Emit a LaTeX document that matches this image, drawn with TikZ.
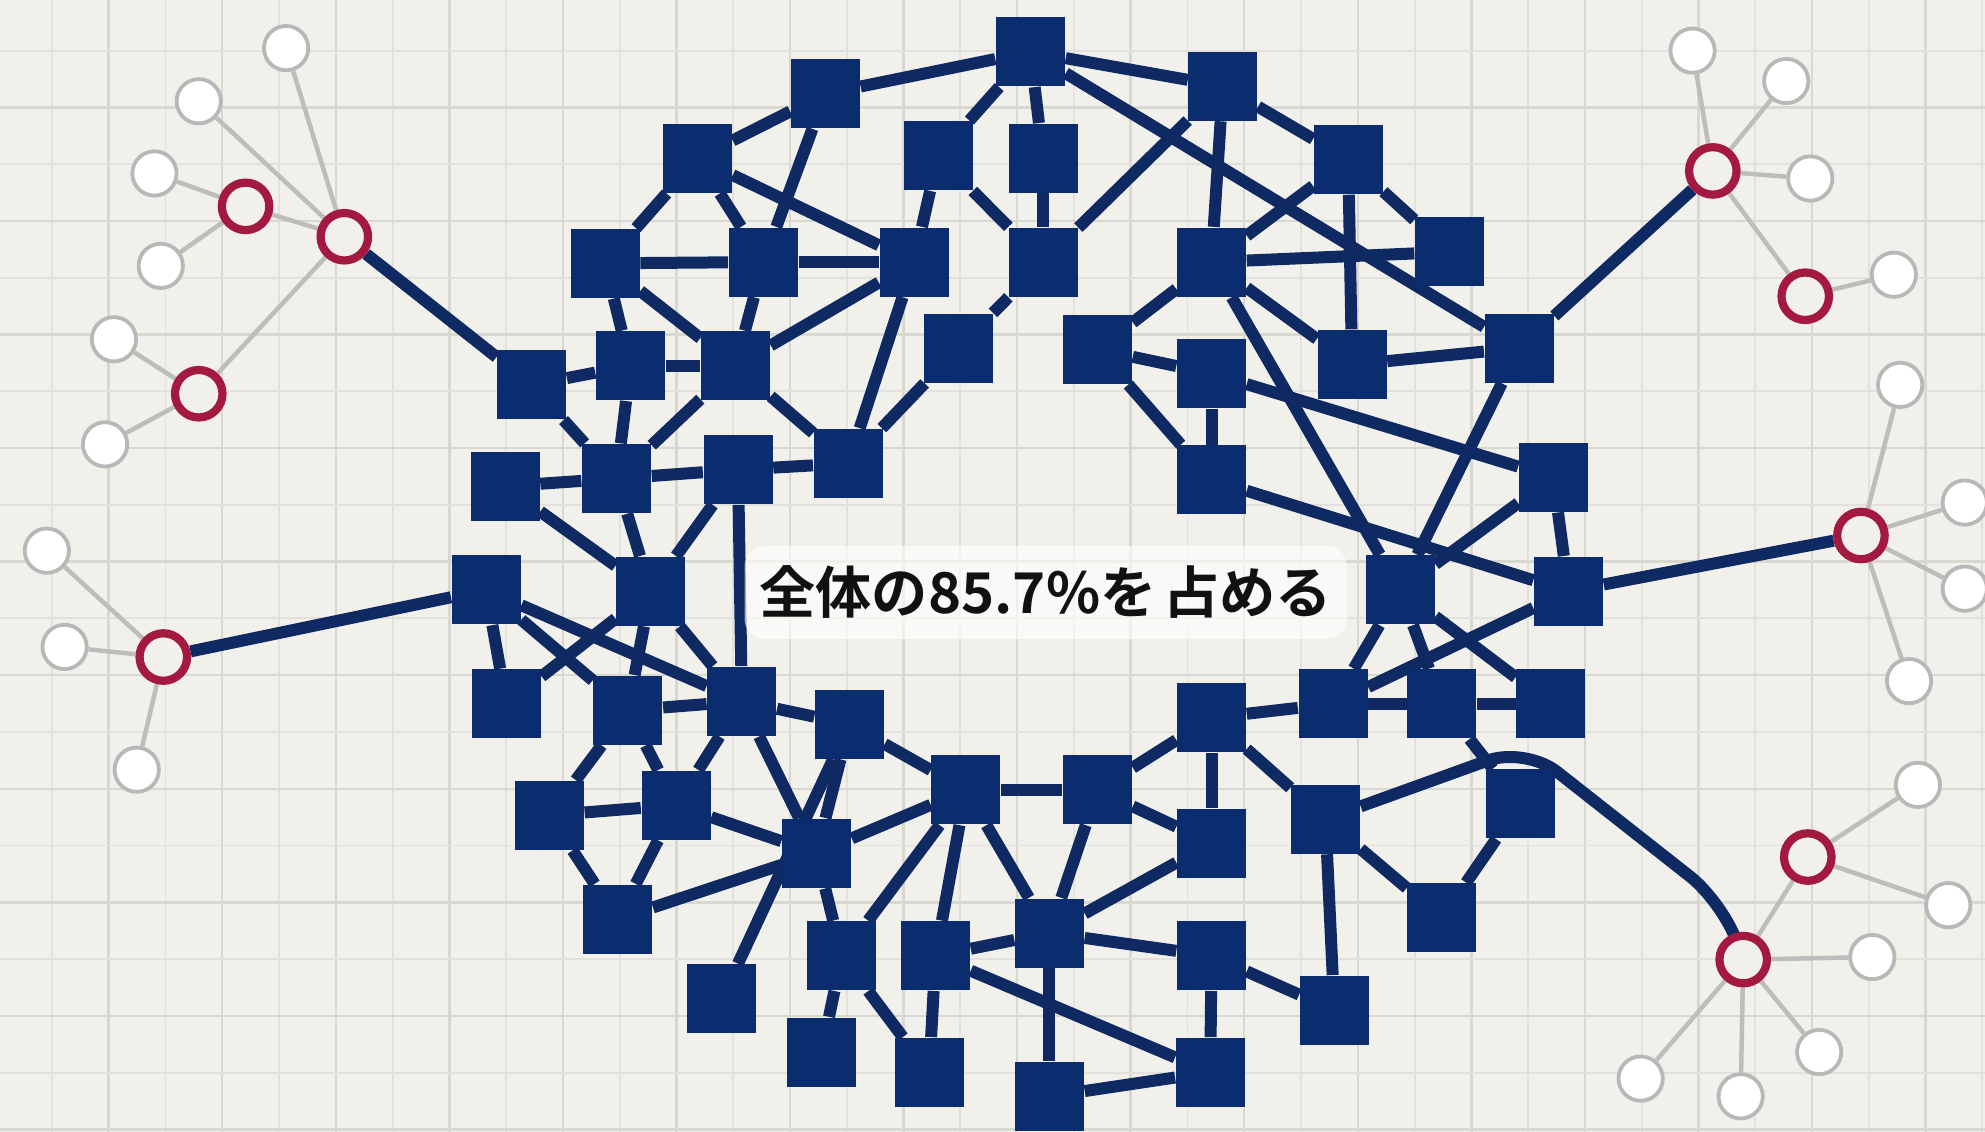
\documentclass[tikz,border=0pt]{standalone}
\usepackage{fontspec}
\newfontfamily\jpfont{Noto Sans CJK JP}[BoldFont={Noto Sans CJK JP Bold}]
\usepackage{tikz}
\definecolor{paper}{HTML}{F1F0EB}
\definecolor{gridlight}{HTML}{E2E1DB}
\definecolor{griddark}{HTML}{D8D7D0}
\definecolor{navy}{HTML}{0C2C70}
\definecolor{navyline}{HTML}{0F2A62}
\definecolor{crimson}{HTML}{A3193F}
\definecolor{twiggray}{HTML}{BDBDBD}
\definecolor{leafgray}{HTML}{B8B8B8}
\definecolor{ink}{HTML}{111111}
\pgfdeclarelayer{grid}
\pgfdeclarelayer{links}
\pgfsetlayers{grid,links,main}
\tikzset{sq/.style={rectangle,fill=navy,minimum size=6.9mm,inner sep=0pt},
  link/.style={draw=navyline,line width=1.2mm},
  twig/.style={draw=twiggray,line width=0.45mm},
  hub/.style={circle,draw=crimson,fill=paper,line width=0.82mm,minimum size=4.75mm,inner sep=0pt},
  leaf/.style={circle,draw=leafgray,fill=white,line width=0.38mm,minimum size=4.43mm,inner sep=0pt},
  gridminor/.style={draw=gridlight,line width=0.19mm},
  gridmajor/.style={draw=griddark,line width=0.25mm}}

\begin{document}
\begin{tikzpicture}[x=0.1266mm,y=-0.1266mm]
\useasboundingbox (0,0) rectangle (1568,894);
\begin{pgfonlayer}{grid}
\fill[paper] (0,0) rectangle (1568,894);
\foreach \i in {0,...,34}{\pgfmathsetmacro\gx{41+44.85*\i}\ifodd\i\def\gs{gridmajor}\else\def\gs{gridminor}\fi
  \draw[\gs] (\gx,0) -- (\gx,894);}
\foreach \j in {0,...,19}{\pgfmathsetmacro\gy{40+44.85*\j}\ifodd\j\def\gs{gridmajor}\else\def\gs{gridminor}\fi
  \draw[\gs] (0,\gy) -- (1568,\gy);}
\end{pgfonlayer}
% core network
\foreach \n/\x/\y in {1/814/41,2/652/74,3/966/68,4/551/125,5/741/123,6/824/125,7/1065/126,
  8/478/208,9/603/207,10/722/207,11/824/207,12/957/207,13/1145/199,
  14/420/304,15/498/289,16/581/289,17/757/275,18/867/276,19/957/295,20/1068/288,21/1200/275,
  22/399/384,23/487/378,24/583/371,25/670/366,26/957/379,27/1227/377,
  28/384/466,29/514/467,30/1106/466,31/1239/467,
  32/400/556,33/496/561,34/586/554,35/671/572,36/957/567,37/1053/556,38/1139/556,39/1225/556,
  40/434/644,41/534/636,42/645/674,43/763/624,44/867/624,45/957/666,46/1047/647,47/1201/635,
  48/488/726,49/665/755,50/829/737,51/957/755,52/1139/725,53/570/789,54/739/755,55/1054/798,
  56/649/831,57/734/847,58/956/847,59/829/866}
  \node[sq] (s\n) at (\x,\y) {};
% outer hubs and leaves
\foreach \n/\x/\y in {1/272/187,2/194/163,3/157/311,4/129/519,5/1353/135,6/1426/234,
  7/1470/423,8/1428/677,9/1377/758}
  \node[hub] (r\n) at (\x,\y) {};
\foreach \n/\x/\y in {1/226/38,2/157/80,3/122/137,4/127/210,5/90/268,6/83/351,
  7/37/435,8/51/511,9/108/608,10/1337/40,11/1411/64,12/1430/141,13/1496/217,
  14/1501/304,15/1552/397,16/1552/465,17/1508/538,18/1515/620,19/1539/715,
  20/1479/756,21/1437/831,22/1375/866,23/1296/852}
  \node[leaf] (w\n) at (\x,\y) {};
\begin{pgfonlayer}{links}
\foreach \a/\b in {1/2,1/3,1/5,1/6,1/21,2/4,2/9,3/7,3/11,3/12,4/8,4/9,4/10,5/10,5/11,6/11,
  7/12,7/13,7/20,8/9,8/15,8/16,9/10,9/16,10/16,10/25,11/17,12/13,12/18,12/20,12/30,
  14/15,14/23,15/16,15/23,16/23,16/25,17/25,18/19,18/26,19/26,19/27,20/21,21/30,
  22/23,22/29,23/24,23/29,24/25,24/29,24/34,26/31,27/30,27/31,
  28/32,28/33,28/34,29/32,29/33,29/34,30/37,30/38,30/39,31/37,
  33/34,33/40,33/41,34/35,34/41,34/42,35/42,35/43,35/53,36/37,36/44,36/45,36/46,
  37/38,38/39,38/47,40/41,40/48,41/42,41/48,42/43,42/48,42/49,
  43/44,43/49,43/50,43/54,44/45,44/50,45/50,46/52,46/55,47/52,49/56,49/57,
  50/51,50/54,50/59,51/55,51/58,54/57,54/58,58/59}
  \draw[link] (s\a) -- (s\b);
\draw[link] (r1) -- (s14);
\draw[link] (r4) -- (s28);
\draw[link] (r5) -- (s21);
\draw[link] (r7) -- (s31);
\draw[link,rounded corners=4mm] (s46) -- (1205,590) -- (1360,712) -- (r9);
\foreach \h/\l in {1/w1,1/w2,1/r2,1/r3,2/w3,2/w4,3/w5,3/w6,4/w7,4/w8,4/w9,
  5/w10,5/w11,5/w12,5/r6,6/w13,7/w14,7/w15,7/w16,7/w17,8/w18,8/w19,
  9/r8,9/w20,9/w21,9/w22,9/w23}
  \draw[twig] (r\h) -- (\l);
\end{pgfonlayer}
\node[fill=white,fill opacity=0.6,text opacity=1,rounded corners=2mm,inner xsep=1.5mm,inner ysep=2mm,
  font=\jpfont\bfseries\fontsize{16}{19}\selectfont,text=ink] (share) at (826,468) {全体の85.7\%を\kern0.12em占める};
\end{tikzpicture}
\end{document}
